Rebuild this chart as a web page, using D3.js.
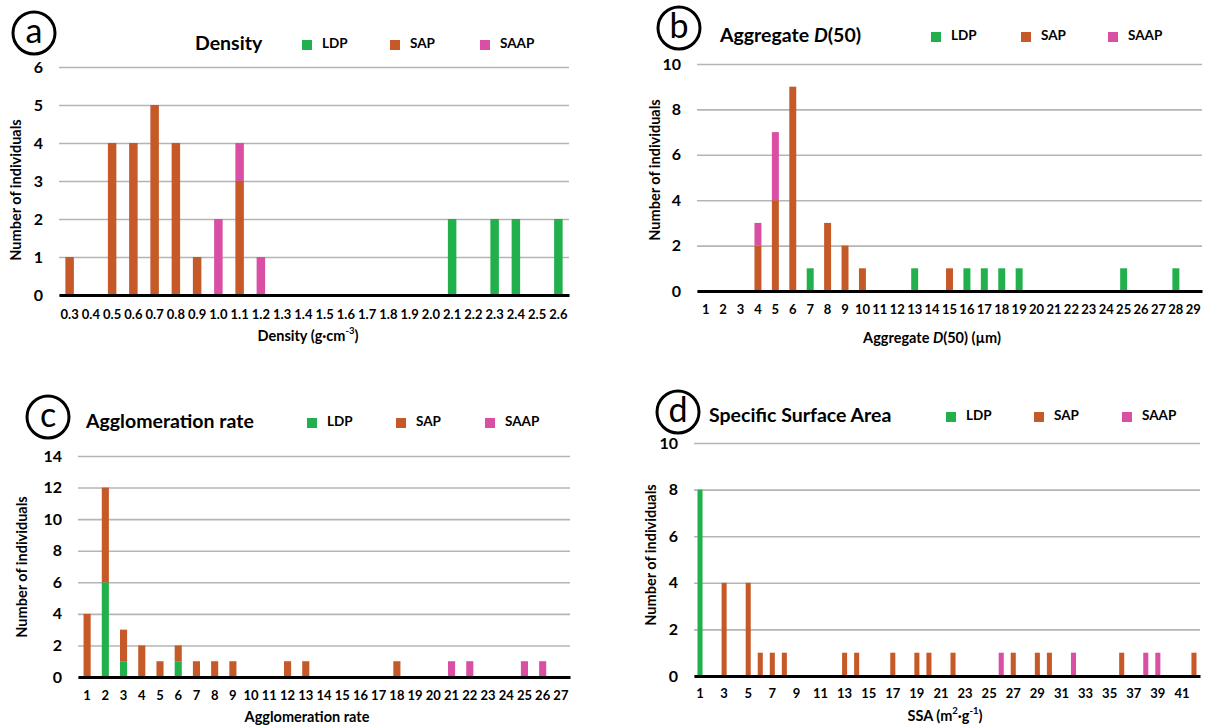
<!DOCTYPE html>
<html><head><meta charset="utf-8">
<script src="https://cdn.jsdelivr.net/npm/d3@7"></script>
<style>
body{margin:0;background:#fff}
svg{display:block}
text{font-family:Lato,"Open Sans",sans-serif;font-weight:700;fill:#000}
</style>
</head><body><svg id="chart" width="1208" height="728"></svg>
<script>
// ---------- data ----------
const seriesKeys = ["LDP", "SAP", "SAAP"];
const seriesColors = ["#21b04b", "#c55a28", "#d94fa3"];

// (a) Density
const densityCats = ["0.3","0.4","0.5","0.6","0.7","0.8","0.9","1.0","1.1","1.2","1.3","1.4","1.5","1.6","1.7","1.8","1.9","2.0","2.1","2.2","2.3","2.4","2.5","2.6"];
const densityLDP  = [0,0,0,0,0,0,0,0,0,0,0,0,0,0,0,0,0,0,2,0,2,2,0,2];
const densitySAP  = [1,0,4,4,5,4,1,0,3,0,0,0,0,0,0,0,0,0,0,0,0,0,0,0];
const densitySAAP = [0,0,0,0,0,0,0,2,1,1,0,0,0,0,0,0,0,0,0,0,0,0,0,0];
const densityYTicks = [0,1,2,3,4,5,6];

// (b) Aggregate D(50)
const d50Cats = ["1","2","3","4","5","6","7","8","9","10","11","12","13","14","15","16","17","18","19","20","21","22","23","24","25","26","27","28","29"];
const d50LDP  = [0,0,0,0,0,0,1,0,0,0,0,0,1,0,0,1,1,1,1,0,0,0,0,0,1,0,0,1,0];
const d50SAP  = [0,0,0,2,4,9,0,3,2,1,0,0,0,0,1,0,0,0,0,0,0,0,0,0,0,0,0,0,0];
const d50SAAP = [0,0,0,1,3,0,0,0,0,0,0,0,0,0,0,0,0,0,0,0,0,0,0,0,0,0,0,0,0];
const d50YTicks = [0,2,4,6,8,10];

// (c) Agglomeration rate
const aggCats = ["1","2","3","4","5","6","7","8","9","10","11","12","13","14","15","16","17","18","19","20","21","22","23","24","25","26","27"];
const aggLDP  = [0,6,1,0,0,1,0,0,0,0,0,0,0,0,0,0,0,0,0,0,0,0,0,0,0,0,0];
const aggSAP  = [4,6,2,2,1,1,1,1,1,0,0,1,1,0,0,0,0,1,0,0,0,0,0,0,0,0,0];
const aggSAAP = [0,0,0,0,0,0,0,0,0,0,0,0,0,0,0,0,0,0,0,0,1,1,0,0,1,1,0];
const aggYTicks = [0,2,4,6,8,10,12,14];

// (d) Specific Surface Area
const ssaCats = ["1","2","3","4","5","6","7","8","9","10","11","12","13","14","15","16","17","18","19","20","21","22","23","24","25","26","27","28","29","30","31","32","33","34","35","36","37","38","39","40","41","42"];
const ssaLDP  = [8,0,0,0,0,0,0,0,0,0,0,0,0,0,0,0,0,0,0,0,0,0,0,0,0,0,0,0,0,0,0,0,0,0,0,0,0,0,0,0,0,0];
const ssaSAP  = [0,0,4,0,4,1,1,1,0,0,0,0,1,1,0,0,1,0,1,1,0,1,0,0,0,0,1,0,1,1,0,0,0,0,0,1,0,0,0,0,0,1];
const ssaSAAP = [0,0,0,0,0,0,0,0,0,0,0,0,0,0,0,0,0,0,0,0,0,0,0,0,0,1,0,0,0,0,0,1,0,0,0,0,0,1,1,0,0,0];
const ssaYTicks = [0,2,4,6,8,10];
const ssaXLabels = ["1","3","5","7","9","11","13","15","17","19","21","23","25","27","29","31","33","35","37","39","41"];

// ---------- layout (positions only) ----------
const panels = [
  {letter:"a", cats:densityCats, ldp:densityLDP, sap:densitySAP, saap:densitySAAP, yTicks:densityYTicks, xLabels:densityCats,
   x0:59, x1:569, yTop:67, yBot:295, pad:0.6,
   circle:[34,33], titleX:195, titleY:45, title:[["Density",false]],
   legendX:[302,390,480], legendY:45,
   yTitle:[17,190], xTitle:[308,337], xTitleParts:[["Density (g·cm",""],["-3","sup"],[")",""]], tickPad:15},
  {letter:"b", cats:d50Cats, ldp:d50LDP, sap:d50SAP, saap:d50SAAP, yTicks:d50YTicks, xLabels:d50Cats,
   x0:697, x1:1202, yTop:64, yBot:291, pad:0.6,
   circle:[679,28], titleX:720, titleY:37, title:[["Aggregate ",false],["D",true],["(50)",false]],
   legendX:[931,1021,1108], legendY:37,
   yTitle:[656,170], xTitle:[932,339], xTitleParts:[["Aggregate ",""],["D","it"],["(50) (µm)",""]], tickPad:14},
  {letter:"c", cats:aggCats, ldp:aggLDP, sap:aggSAP, saap:aggSAAP, yTicks:aggYTicks, xLabels:aggCats,
   x0:78, x1:570, yTop:456, yBot:677, pad:0.61,
   circle:[48,417], titleX:86, titleY:423, title:[["Agglomeration rate",false]],
   legendX:[307,396,485], legendY:423,
   yTitle:[23,567], xTitle:[307,718], xTitleParts:[["Agglomeration rate",""]], tickPad:14},
  {letter:"d", cats:ssaCats, ldp:ssaLDP, sap:ssaSAP, saap:ssaSAAP, yTicks:ssaYTicks, xLabels:ssaXLabels,
   x0:694, x1:1200, yTop:443, yBot:676, pad:0.58,
   circle:[678,412], titleX:709, titleY:417, title:[["Specific Surface Area",false]],
   legendX:[946,1034,1122], legendY:417,
   yTitle:[652,555], xTitle:[945,717], xTitleParts:[["SSA (m",""],["2","sup"],["·g",""],["-1","sup"],[")",""]], tickPad:13}
];

const svg = d3.select("#chart");
const color = d3.scaleOrdinal().domain(seriesKeys).range(seriesColors);

panels.forEach(p => {
  const g = svg.append("g");
  const rows = p.cats.map((c, i) => ({cat: c, LDP: p.ldp[i], SAP: p.sap[i], SAAP: p.saap[i]}));
  const yMax = d3.max(p.yTicks);
  const x = d3.scaleBand().domain(p.cats).range([p.x0, p.x1]).paddingInner(p.pad).paddingOuter(p.pad / 2);
  const y = d3.scaleLinear().domain([0, yMax]).range([p.yBot, p.yTop]);

  // gridlines + y tick labels
  const yAxis = g.append("g").attr("transform", `translate(${p.x0},0)`)
    .call(d3.axisLeft(y).tickValues(p.yTicks).tickSize(-(p.x1 - p.x0)).tickPadding(16).tickFormat(d3.format("d")));
  yAxis.select(".domain").remove();
  yAxis.selectAll(".tick line").attr("stroke", "#b5b5b5").attr("stroke-width", 1.6);
  yAxis.selectAll(".tick text").style("font-size", "16px");

  // stacked bars
  const stacked = d3.stack().keys(seriesKeys)(rows);
  g.append("g").selectAll("g").data(stacked).join("g")
    .attr("fill", d => color(d.key))
    .selectAll("rect").data(d => d.filter(v => v[1] > v[0])).join("rect")
    .attr("x", d => x(d.data.cat))
    .attr("width", x.bandwidth())
    .attr("y", d => y(d[1]))
    .attr("height", d => y(d[0]) - y(d[1]));

  // x axis
  const xAxis = g.append("g").attr("transform", `translate(0,${p.yBot})`)
    .call(d3.axisBottom(x).tickValues(p.xLabels).tickSize(0).tickPadding(p.tickPad));
  xAxis.select(".domain").attr("stroke", "#000").attr("stroke-width", 2.8);
  xAxis.selectAll(".tick text").style("font-size", "13px");

  // y title
  g.append("text")
    .attr("transform", `translate(${p.yTitle[0]},${p.yTitle[1]}) rotate(-90)`)
    .attr("text-anchor", "middle").attr("dominant-baseline", "middle")
    .style("font-size", "14.5px").text("Number of individuals");

  // x title
  const xt = g.append("text").attr("x", p.xTitle[0]).attr("y", p.xTitle[1])
    .attr("text-anchor", "middle").attr("dominant-baseline", "middle").style("font-size", "14.5px");
  p.xTitleParts.forEach(([t, kind]) => {
    const s = xt.append("tspan").text(t);
    if (kind === "sup") s.attr("baseline-shift", "super").style("font-size", "9.5px");
    if (kind === "it") s.style("font-style", "italic");
  });

  // panel title
  const tt = g.append("text").attr("x", p.titleX).attr("y", p.titleY)
    .attr("dominant-baseline", "middle").style("font-size", "19.5px");
  p.title.forEach(([t, it]) => {
    const s = tt.append("tspan").text(t);
    if (it) s.style("font-style", "italic");
  });

  // legend
  seriesKeys.forEach((k, i) => {
    g.append("rect").attr("x", p.legendX[i]).attr("y", p.legendY - 5).attr("width", 10).attr("height", 10).attr("fill", color(k));
    g.append("text").attr("x", p.legendX[i] + 20).attr("y", p.legendY)
      .attr("dominant-baseline", "middle").style("font-size", "13.5px").text(k);
  });

  // panel letter
  g.append("circle").attr("cx", p.circle[0]).attr("cy", p.circle[1]).attr("r", 21)
    .attr("fill", "none").attr("stroke", "#000").attr("stroke-width", 3);
  g.append("text").attr("x", p.circle[0]).attr("y", p.circle[1] + 1)
    .attr("text-anchor", "middle").attr("dominant-baseline", "middle")
    .style("font-size", "34px").style("font-weight", "400").text(p.letter);
});
</script>
</body></html>
